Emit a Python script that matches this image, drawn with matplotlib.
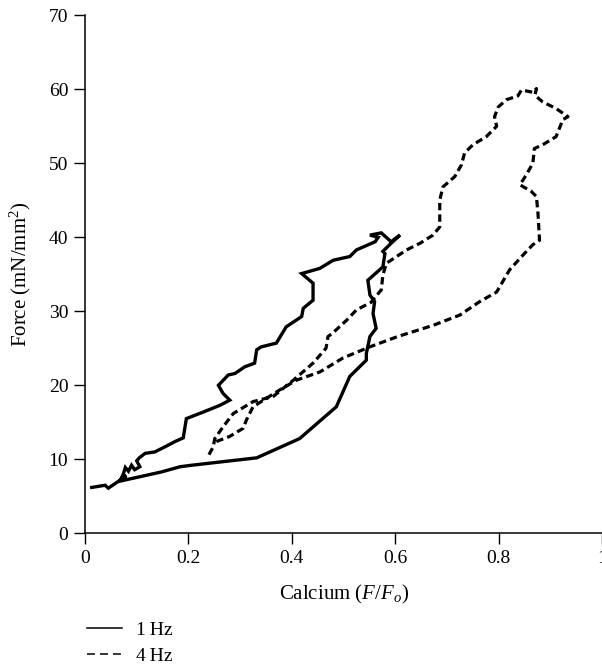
import matplotlib

matplotlib.use("Agg")
import matplotlib.pyplot as plt
from matplotlib.lines import Line2D


OUTPUT_PATH = "out.png"

# 1 Hz loop (solid): calcium rise along the bottom, relaxation back along the top.
calcio_1hz = [
    0.013, 0.039, 0.045, 0.064, 0.103, 0.148, 0.184, 0.206, 0.332, 0.415,
    0.486, 0.512, 0.544, 0.544, 0.551, 0.563, 0.557, 0.560, 0.551, 0.547,
    0.576, 0.580, 0.576, 0.592, 0.609, 0.592, 0.573, 0.551, 0.567, 0.561,
    0.525, 0.512, 0.480, 0.454, 0.419, 0.441, 0.441, 0.422, 0.419, 0.389,
    0.370, 0.341, 0.332, 0.328, 0.309, 0.290, 0.277, 0.258, 0.267, 0.280,
    0.261, 0.229, 0.196, 0.190, 0.174, 0.155, 0.135, 0.116, 0.105, 0.100,
    0.106, 0.096, 0.090, 0.084, 0.078, 0.074, 0.070, 0.080, 0.068,
]
forca_1hz = [
    6.2, 6.5, 6.1, 7.0, 7.6, 8.3, 9.0, 9.2, 10.2, 12.8,
    17.1, 21.2, 23.4, 24.3, 26.6, 27.7, 29.7, 31.3, 32.2, 34.2,
    36.0, 37.8, 38.1, 39.2, 40.3, 39.4, 40.6, 40.3, 40.0, 39.4,
    38.3, 37.4, 36.9, 35.8, 35.1, 33.8, 31.5, 30.4, 29.3, 27.9,
    25.7, 25.2, 24.8, 23.0, 22.5, 21.6, 21.4, 20.0, 18.9, 18.0,
    17.3, 16.4, 15.5, 12.9, 12.4, 11.7, 11.0, 10.8, 10.2, 9.8,
    9.0, 8.6, 9.2, 8.4, 8.9, 8.0, 7.4, 7.8, 7.2,
]

# 4 Hz loop (dashed).
calcio_4hz = [
    0.254, 0.280, 0.306, 0.312, 0.325, 0.377, 0.409, 0.454, 0.499, 0.551,
    0.605, 0.673, 0.725, 0.763, 0.796, 0.821, 0.847, 0.866, 0.879, 0.876,
    0.873, 0.863, 0.841, 0.853, 0.866, 0.869, 0.885, 0.911, 0.924, 0.934,
    0.911, 0.885, 0.870, 0.873, 0.866, 0.844, 0.837, 0.815, 0.799, 0.792,
    0.796, 0.776, 0.750, 0.734, 0.728, 0.715, 0.692, 0.686, 0.686, 0.686,
    0.673, 0.648, 0.622, 0.609, 0.583, 0.576, 0.573, 0.560, 0.553, 0.525,
    0.506, 0.478, 0.470, 0.466, 0.441, 0.403, 0.364, 0.325, 0.287, 0.267,
    0.251, 0.248, 0.238,
]
forca_4hz = [
    12.4, 13.1, 14.2, 15.3, 17.1, 19.4, 20.7, 21.8, 23.7, 25.2,
    26.6, 28.1, 29.5, 31.3, 32.6, 35.6, 37.6, 39.0, 39.6, 43.2,
    45.5, 46.2, 47.1, 48.4, 50.0, 52.0, 52.5, 53.6, 55.9, 56.3,
    57.4, 58.3, 59.2, 60.1, 59.6, 59.9, 59.1, 58.6, 57.6, 56.3,
    55.0, 53.6, 52.5, 51.4, 49.8, 48.2, 46.8, 45.0, 43.2, 41.4,
    40.3, 39.2, 38.3, 37.7, 36.5, 34.9, 32.9, 31.8, 31.2, 30.2,
    28.8, 27.0, 26.6, 25.0, 23.0, 20.7, 18.5, 17.8, 16.2, 14.4,
    12.8, 11.7, 10.4,
]

x_ticks = [0, 0.2, 0.4, 0.6, 0.8, 1]
x_tick_labels = ["0", "0.2", "0.4", "0.6", "0.8", "1"]
y_ticks = [0, 10, 20, 30, 40, 50, 60, 70]

serie_labels = ["1\u2009Hz", "4\u2009Hz"]


def configurar_fontes() -> None:
    plt.rcParams["font.family"] = ["Liberation Serif", "DejaVu Serif"]
    plt.rcParams["mathtext.fontset"] = "custom"
    plt.rcParams["mathtext.rm"] = "Liberation Serif"
    plt.rcParams["mathtext.it"] = "Liberation Serif:italic"
    plt.rcParams["font.size"] = 14


def gerar_grafico() -> None:
    fig = plt.figure(figsize=(6.02, 6.65), dpi=100)
    ax = fig.add_axes([0.1412, 0.198, 0.859, 0.779])

    ax.plot(calcio_1hz, forca_1hz, color="black", lw=2.4,
            solid_joinstyle="miter")
    ax.plot(calcio_4hz, forca_4hz, color="black", lw=2.3,
            linestyle=(0, (2.3, 1.3)))

    ax.set_xlim(0, 1)
    ax.set_ylim(0, 70)
    ax.set_xticks(x_ticks)
    ax.set_xticklabels(x_tick_labels)
    ax.set_yticks(y_ticks)

    for lado in ("top", "right"):
        ax.spines[lado].set_visible(False)
    for lado in ("left", "bottom"):
        ax.spines[lado].set_linewidth(1.1)
    ax.tick_params(direction="out", length=8, width=1.0, pad=4,
                   labelsize=14, colors="black")

    ax.set_xlabel("Calcium ($F/F_o$)", fontsize=15)
    ax.set_ylabel("Force (mN/mm$^2$)", fontsize=15)
    ax.xaxis.set_label_coords(0.5, -0.095)
    ax.yaxis.set_label_coords(-0.100, 0.5)

    # Legend sits under the axes, on the left.
    handles = [
        Line2D([], [], color="black", lw=1.1),
        Line2D([], [], color="black", lw=1.1, linestyle=(0, (5.2, 3.3))),
    ]
    fig.legend(handles, serie_labels, loc="upper left",
               bbox_to_anchor=(0.144, 0.066), frameon=False,
               borderpad=0, borderaxespad=0, handlelength=1.8,
               handletextpad=0.75, labelspacing=0.45, fontsize=14)

    fig.savefig(OUTPUT_PATH, dpi=100)
    plt.close(fig)


def main() -> None:
    configurar_fontes()
    gerar_grafico()


if __name__ == "__main__":
    main()
